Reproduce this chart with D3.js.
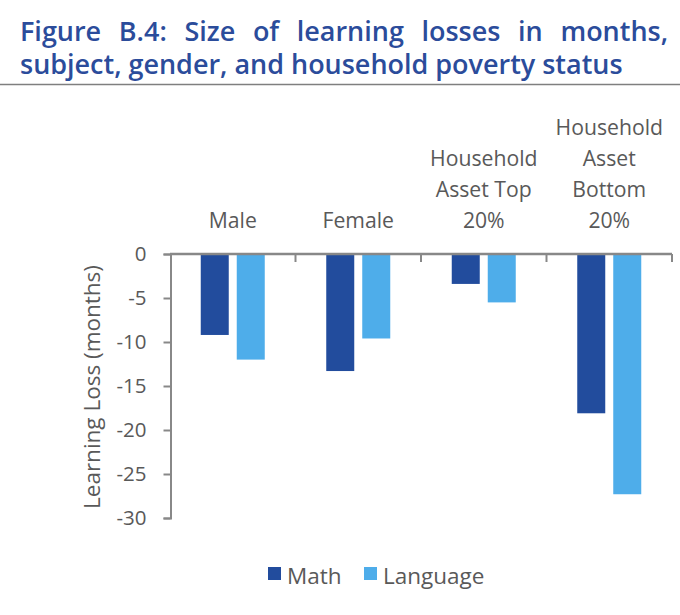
<!DOCTYPE html>
<html><head><meta charset="utf-8">
<script src="https://cdn.jsdelivr.net/npm/d3@7"></script>
<style>body{margin:0;background:#fff}svg{display:block}</style>
</head><body>
<svg id="c" width="680" height="615"></svg>
<script>
const categories = [["Male"],["Female"],["Household","Asset Top","20%"],["Household","Asset","Bottom","20%"]];
const categoryKeys = ["Male","Female","Top20","Bottom20"];
const series = ["Math","Language"];
const mathValues = [-9.2,-13.3,-3.4,-18.1];
const languageValues = [-12.0,-9.6,-5.5,-27.3];
const yTicks = [0,-5,-10,-15,-20,-25,-30];
const titleLines = ["Figure B.4: Size of learning losses in months,","subject, gender, and household poverty status"];
const colors = {Math:"#224C9D", Language:"#4EADEA"};
const font = "'Open Sans', 'Noto Sans', sans-serif";
const gray = "#595959";

const svg = d3.select("#c");
// Title
const t1 = svg.append("g").attr("font-family",font).attr("font-weight",600).attr("font-size",27).attr("fill","#2B4C9B");
const left = 20, right = 668;
const l2 = t1.append("text").attr("x",left).attr("y",74).text(titleLines[1]);
const fs = 27 * 603 / l2.node().getComputedTextLength();
t1.attr("font-size",fs);
const words = titleLines[0].split(" ");
const tmp = words.map(w => t1.append("text").attr("y",41).text(w));
const widths = tmp.map(t => t.node().getComputedTextLength());
const gap = (right-left - d3.sum(widths))/(words.length-1);
let xx = left;
tmp.forEach((t,i)=>{ t.attr("x",xx); xx += widths[i]+gap; });
svg.append("line").attr("x1",0).attr("x2",680).attr("y1",84.5).attr("y2",84.5).attr("stroke","#7f7f7f").attr("stroke-width",1.3);

const x0 = d3.scaleBand().domain(categoryKeys).range([170,672]).paddingInner(0).paddingOuter(0);
const y = d3.scaleLinear().domain([0,-30]).range([254,518]);
const bw = 28, bgap = 8;

const data = categoryKeys.map((k,i)=>({k, Math:mathValues[i], Language:languageValues[i]}));
const g = svg.append("g");
data.forEach(d=>{
  const cx = x0(d.k)+x0.bandwidth()/2;
  series.forEach((s,j)=>{
    const bx = j===0 ? cx - bgap/2 - bw : cx + bgap/2;
    g.append("rect").attr("x",bx).attr("width",bw)
     .attr("y",y(0)).attr("height",y(d[s])-y(0)).attr("fill",colors[s]);
  });
});

// y axis
const ya = svg.append("g").attr("transform","translate(170.5,0)")
  .call(d3.axisLeft(y).tickValues(yTicks).tickSize(7).tickPadding(17).tickFormat(d3.format("d")));
ya.select(".domain").attr("stroke","#888").attr("stroke-width",2);
ya.selectAll(".tick line").attr("stroke","#888").attr("stroke-width",2);
ya.selectAll(".tick text").attr("font-family",font).attr("font-size",20.5).attr("fill",gray)
  .text(d=> d===0?"0":"-"+Math.abs(d));

// x axis line at 0 with ticks downward at category boundaries
const xa = svg.append("g").attr("transform",`translate(0,${y(0)})`);
xa.append("line").attr("x1",170).attr("x2",672).attr("stroke","#888").attr("stroke-width",2.5);
const bounds = categoryKeys.map(k=>x0(k)).concat([672]);
bounds.slice(1).forEach(b=> xa.append("line").attr("x1",b).attr("x2",b).attr("y1",0).attr("y2",8).attr("stroke","#888").attr("stroke-width",2));

// category labels above
data.forEach((d,i)=>{
  const cx = x0(d.k)+x0.bandwidth()/2;
  const lines = categories[i];
  lines.forEach((ln,j)=>{
    svg.append("text").attr("x",cx).attr("y",228 - (lines.length-1-j)*31)
      .attr("text-anchor","middle").attr("font-family",font).attr("font-size",21.2).attr("fill",gray).text(ln);
  });
});

// y title
svg.append("text").attr("transform","translate(100,387) rotate(-90)").attr("text-anchor","middle")
  .attr("font-family",font).attr("font-size",22.5).attr("fill",gray).text("Learning Loss (months)");

// legend
const leg = svg.append("g").attr("font-family",font).attr("font-size",22.5).attr("fill",gray);
const legItems = [{s:"Math",x:268},{s:"Language",x:364}];
legItems.forEach(l=>{
  leg.append("rect").attr("x",l.x).attr("y",567).attr("width",13).attr("height",13).attr("fill",colors[l.s]);
  leg.append("text").attr("x",l.x+19).attr("y",584).text(l.s);
});
</script>
</body></html>
